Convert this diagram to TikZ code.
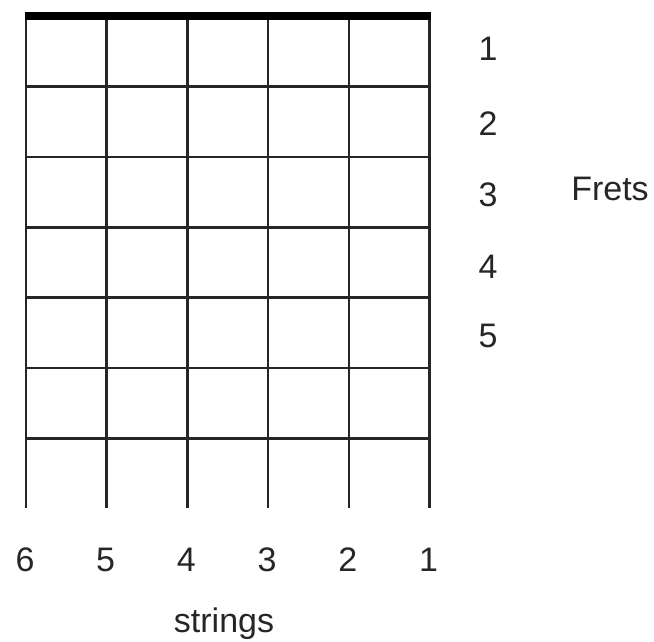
\documentclass[tikz,border=0pt]{standalone}
\usepackage{fontspec}
\setmainfont{Liberation Sans}
\begin{document}
\begin{tikzpicture}[x=1pt,y=-1pt,
  gridline/.style={draw=black!85, line width=2.6pt},
  nutline/.style={draw=black, line width=7.5pt},
  lbl/.style={inner sep=0pt, font=\fontsize{34}{40}\selectfont, text=black!85}]
\useasboundingbox (0,0) rectangle (654,641);
% strings (vertical)
\foreach \i/\x in {6/26,5/106.7,4/187.4,3/268.1,2/348.8,1/429.5}{
  \coordinate (s\i top) at (\x,16);
  \coordinate (s\i bot) at (\x,508);
  \draw[gridline] (s\i top) -- (s\i bot);
  \node[lbl] (sn\i) at (\x-1,560) {\i};
}
% frets (horizontal)
\foreach \j/\y in {1/86.4,2/156.8,3/227.2,4/297.6,5/368,6/438.4}{
  \coordinate (fl\j) at (26,\y);
  \coordinate (fr\j) at (429.5,\y);
  \draw[gridline] (fl\j) -- (fr\j);
}
% nut
\coordinate (nl) at (24.7,16);
\coordinate (nr) at (430.8,16);
\draw[nutline] (nl) -- (nr);
% fret numbers
\foreach \k/\y in {1/49,2/123.5,3/195,4/266.5,5/336}{
  \node[lbl] (fn\k) at (488,\y) {\k};
}
\node[lbl] (frets) at (610,189) {Frets};
\node[lbl, anchor=base] (strings) at (224,632) {strings};
\end{tikzpicture}
\end{document}
